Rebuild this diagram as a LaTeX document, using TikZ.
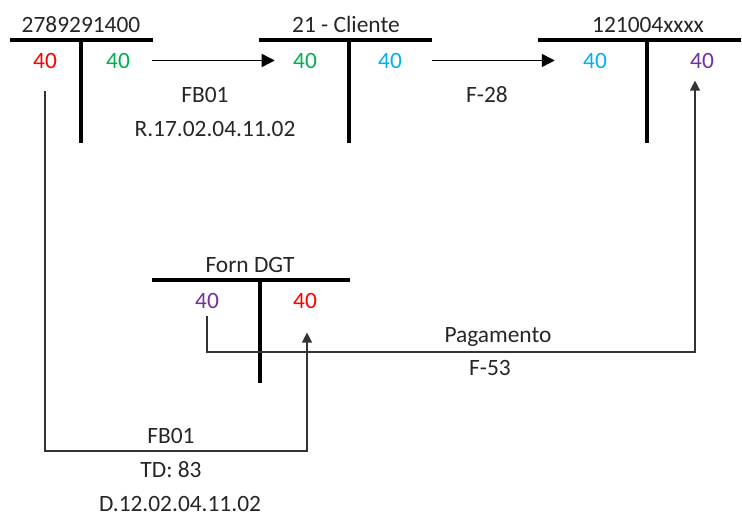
\documentclass[tikz,border=0pt]{standalone}
\usepackage{fontspec}
\setmainfont{Carlito}
\usetikzlibrary{arrows.meta}
\definecolor{valred}{HTML}{FF0000}
\definecolor{valgreen}{HTML}{00B050}
\definecolor{valblue}{HTML}{00B0F0}
\definecolor{valpurple}{HTML}{7030A0}

\begin{document}
\begin{tikzpicture}[x=0.5pt, y=-0.5pt,
  lbl/.style={anchor=base, inner sep=1pt, font=\fontsize{11.7}{14}\selectfont, text=black!85},
  tbar/.style={line width=2pt},
  conn/.style={line width=0.6pt, black!80},
  bigtip/.style={-{Triangle[length=6.5pt,width=6.5pt]}},
  smalltip/.style={-{Triangle[length=5pt,width=5pt]}}]
\useasboundingbox (0,0) rectangle (742,515);

% T-accounts: bar from \xa to \xb, stem at \xs
\foreach \xa/\xb/\xs/\y in {10/153/81/40, 259/432/349/40, 538/741/647/40, 152/350/260/280} {
  \draw[tbar] (\xa,\y) -- (\xb,\y);
  \draw[tbar] (\xs,\y) -- (\xs,\y+103);
}

% Account titles
\node[lbl] (tit1) at (81,32) {2789291400};
\node[lbl] (tit2) at (346,32) {21 - Cliente};
\node[lbl] (tit3) at (648,32) {121004xxxx};
\node[lbl] (tit4) at (250,272) {Forn DGT};

% Debit / credit amounts
\node[lbl, text=valred] (c1l) at (45,68) {40};
\node[lbl, text=valgreen] (c1r) at (118,68) {40};
\node[lbl, text=valgreen] (c2l) at (305,68) {40};
\node[lbl, text=valblue] (c2r) at (390,68) {40};
\node[lbl, text=valblue] (c3l) at (595,68) {40};
\node[lbl, text=valpurple] (c3r) at (702,68) {40};
\node[lbl, text=valpurple] (fdl) at (207,308) {40};
\node[lbl, text=valred] (fdr) at (305,308) {40};

% Transfers along the top
\draw[line width=0.75pt, bigtip, shorten <=10pt, shorten >=8pt] (c1r) -- (c2l);
\draw[line width=0.75pt, bigtip, shorten <=14pt, shorten >=13pt] (c2r) -- (c3l);
\node[lbl] (fb1) at (205,102) {FB01};
\node[lbl] (ref1) at (215,136) {R.17.02.04.11.02};
\node[lbl] (f28) at (487,102) {F-28};

% Payment back to 121004xxxx
\coordinate (payturn) at (695,352);
\draw[conn, smalltip, shorten <=2.5pt, shorten >=5pt]
  (fdl.south) |- (payturn) -- (payturn |- c3r.south);
\node[lbl] (pag) at (498,342) {Pagamento};
\node[lbl] (f53) at (490,375) {F-53};

% Document to Forn DGT
\coordinate (fbturn) at (307,451);
\draw[conn, smalltip, shorten <=10pt, shorten >=11pt]
  (c1l.south) |- (fbturn) -- (fbturn |- fdr.south);
\node[lbl] (fb2) at (171,443) {FB01};
\node[lbl] (td) at (171,477) {TD: 83};
\node[lbl] (ref2) at (180,511) {D.12.02.04.11.02};
\end{tikzpicture}
\end{document}
